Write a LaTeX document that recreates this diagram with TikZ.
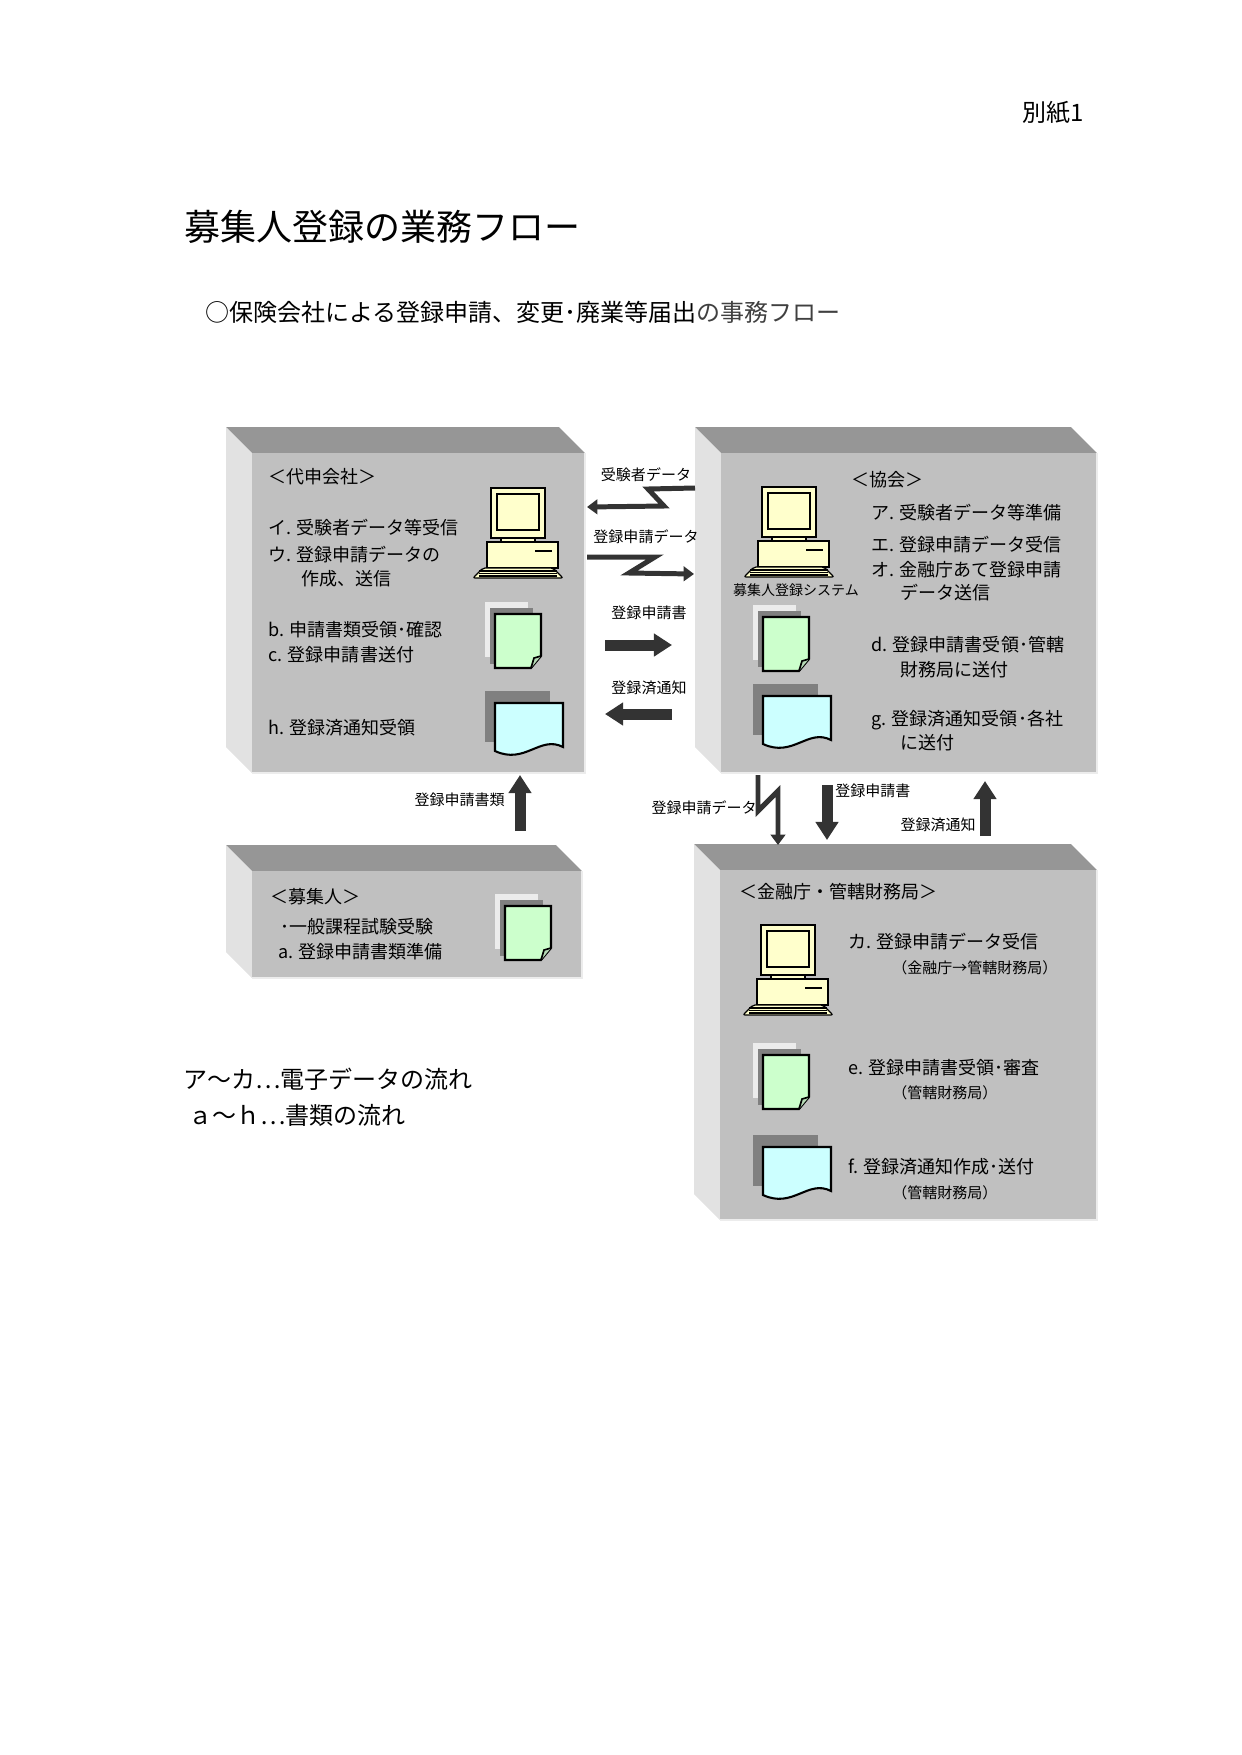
\documentclass[tikz,border=0pt]{standalone}
\usepackage{fontspec}
\setmainfont{Noto Sans CJK JP}
\usetikzlibrary{arrows.meta}

\definecolor{slabfront}{HTML}{C0C0C0}
\definecolor{slabtop}{HTML}{969696}
\definecolor{slabside}{HTML}{E2E2E2}
\definecolor{pccream}{HTML}{FFFFCC}
\definecolor{docgreen}{HTML}{CCFFCC}
\definecolor{doccyan}{HTML}{CCFFFF}
\definecolor{flowgray}{HTML}{333333}

\newcommand{\fpx}[1]{\pgfmathsetmacro\fpxs{#1*0.482}\pgfmathsetmacro\fpxb{#1*0.6}\fontsize{\fpxs pt}{\fpxb pt}\selectfont}

% 3D slab: front face from (#1,#2) to (#3,#4)
\newcommand{\slab}[4]{%
  \fill[slabtop] (#1-26,#2-26) -- (#3-26,#2-26) -- (#3,#2) -- (#1,#2) -- cycle;
  \fill[slabside] (#1-26,#2-26) -- (#1,#2) -- (#1,#4) -- (#1-26,#4-26) -- cycle;
  \fill[slabfront] (#1,#2) rectangle (#3,#4);
  \draw[white!85!gray, line width=0.6pt] (#3,#2) -- (#3,#4) -- (#1,#4);
}

\tikzset{
  lbl/.style={anchor=west, inner sep=0, font=\fpx{18}},
  sml/.style={anchor=west, inner sep=0, font=\fpx{15}},
  flowtag/.style={inner sep=0, font=\fpx{15}},
  bolt/.style={line width=2.4pt, draw=flowgray, line join=miter,
    -{Triangle[length=5pt, width=7pt]}},
  block/.style={line width=5.3pt, draw=flowgray,
    -{Triangle[length=8.7pt, width=10.6pt]}},
  pics/pc/.style={code={
    \draw[fill=pccream, line width=0.6pt] (18,0) rectangle (72,50);
    \draw[line width=1.2pt] (24,6) rectangle (66,42);
    \draw[fill=pccream, line width=0.6pt] (28,50) rectangle (62,54);
    \draw[fill=pccream, line width=0.6pt] (14,54) rectangle (85,80);
    \draw[line width=1.2pt] (62,63) -- (79,63);
    \draw[fill=pccream, line width=0.6pt, rounded corners=1pt]
      (10,80) -- (80,80) -- (90,90) -- (0,90) -- cycle;
    \foreach \k in {83,85.5,88} \draw[line width=0.8pt] (6,\k) -- (84,\k);
  }},
  pics/greendoc/.style={code={
    \fill[gray!15] (0,0) rectangle (43,55);
    \fill[gray] (5,6) rectangle (48,62);
    \draw[fill=docgreen, line width=1pt] (10,12) -- (56,12) -- (56,54) -- (46,66) -- (10,66) -- cycle;
    \draw[fill=docgreen!70!gray, line width=0.8pt] (46,66) -- (49,56) -- (56,54);
  }},
  pics/cyandoc/.style={code={
    \fill[gray] (0,0) rectangle (65,51);
    \draw[fill=doccyan, line width=1pt] (10,12) -- (78,12) -- (78,56)
      .. controls (55,44) and (40,74) .. (10,60) -- cycle;
  }}
}

\begin{document}
\begin{tikzpicture}[x=0.48bp, y=-0.48bp]
\useasboundingbox (0,0) rectangle (1241,1755);

% headings
\node[anchor=east, inner sep=0, font=\fpx{24}] (sheet) at (1084,113) {別紙1};
\node[anchor=west, inner sep=0, font=\fpx{36}] (title) at (184,227) {募集人登録の業務フロー};
\node[anchor=west, inner sep=0, font=\fpx{24}] (sub) at (205,312)
  {○保険会社による登録申請、変更･廃業等届出\textcolor{black!75}{の事務フロー}};

% slabs
\slab{252}{453}{585}{773}
\slab{721}{453}{1097}{773}
\slab{252}{871}{582}{978}
\slab{720}{870}{1097}{1220}

% 代申会社
\node[lbl] (agent) at (268,477) {＜代申会社＞};
\pic at (473,488) {pc};
\node[lbl] (i) at (268,528) {イ. 受験者データ等受信};
\node[lbl] (u) at (268,555) {ウ. 登録申請データの};
\node[lbl] (u2) at (301,579) {作成、送信};
\node[lbl] (b) at (268,630) {b. 申請書類受領･確認};
\node[lbl] (c) at (268,655) {c. 登録申請書送付};
\pic at (485,602) {greendoc};
\node[lbl] (h) at (268,728) {h. 登録済通知受領};
\pic at (485,691) {cyandoc};

% 協会
\node[lbl] (assoc) at (851,480) {＜協会＞};
\pic at (744,487) {pc};
\node[flowtag, font=\fpx{14}] (sys) at (796,590) {募集人登録システム};
\node[lbl] (a1) at (871,513) {ア. 受験者データ等準備};
\node[lbl] (e1) at (871,545) {エ. 登録申請データ受信};
\node[lbl] (o1) at (871,570) {オ. 金融庁あて登録申請};
\node[lbl] (o2) at (900,593) {データ送信};
\pic at (753,605) {greendoc};
\node[lbl] (d) at (871,645) {d. 登録申請書受領･管轄};
\node[lbl] (d2) at (900,670) {財務局に送付};
\pic at (753,684) {cyandoc};
\node[lbl] (g) at (871,720) {g. 登録済通知受領･各社};
\node[lbl] (g2) at (900,743) {に送付};

% 募集人
\node[lbl] (cand) at (270,897) {＜募集人＞};
\node[lbl] (exam) at (280,927) {･一般課程試験受験};
\node[lbl] (prep) at (278,952) {a. 登録申請書類準備};
\pic at (495,894) {greendoc};

% 金融庁・管轄財務局
\node[lbl] (fsa) at (739,892) {＜金融庁・管轄財務局＞};
\pic at (743,925) {pc};
\node[lbl] (ka) at (848,942) {カ. 登録申請データ受信};
\node[sml] (ka2) at (892,968) {（金融庁→管轄財務局）};
\pic at (753,1043) {greendoc};
\node[lbl] (ee) at (848,1068) {e. 登録申請書受領･審査};
\node[sml] (ee2) at (892,1093) {（管轄財務局）};
\pic at (753,1135) {cyandoc};
\node[lbl] (ff) at (848,1167) {f. 登録済通知作成･送付};
\node[sml] (ff2) at (892,1193) {（管轄財務局）};

% legend
\node[anchor=west, inner sep=0, font=\fpx{24}] (leg1) at (183,1079) {ア～カ⋯電子データの流れ};
\node[anchor=west, inner sep=0, font=\fpx{24}] (leg2) at (188,1115) {ａ～ｈ⋯書類の流れ};

% flows between agent and association
\coordinate (q1) at (695,488);  \coordinate (p1) at (587,507);
\node[flowtag] (t1) at (646,475) {受験者データ};
\draw[bolt] (q1) -- (648,489) -- (664,506) -- (p1);
\coordinate (p2) at (587,557);  \coordinate (q2) at (694,574);
\node[flowtag] (t2) at (646,537) {登録申請データ};
\draw[bolt] (p2) -- (655,557) -- (629,573) -- (q2);
\coordinate (p3) at (605,645);  \coordinate (q3) at (672,645);
\node[flowtag] (t3) at (649,613) {登録申請書};
\draw[block] (p3) -- (q3);
\coordinate (p4) at (672,714);  \coordinate (q4) at (605,714);
\node[flowtag] (t4) at (649,688) {登録済通知};
\draw[block] (p4) -- (q4);

% candidate to agent
\coordinate (p5) at (520,831);  \coordinate (q5) at (520,775);
\node[flowtag, anchor=east] (t5) at (505,800) {登録申請書類};
\draw[block] (p5) -- (q5);

% association and FSA
\coordinate (p6) at (758,775);  \coordinate (q6) at (778,845);
\node[flowtag, anchor=east] (t6) at (757,808) {登録申請データ};
\draw[bolt] (p6) -- (758,811) -- (778,791) -- (q6);
\coordinate (p7) at (827,785);  \coordinate (q7) at (827,840);
\node[flowtag, anchor=west] (t7) at (835,791) {登録申請書};
\draw[block] (p7) -- (q7);
\coordinate (p8) at (985,836);  \coordinate (q8) at (985,781);
\node[flowtag, anchor=east] (t8) at (976,825) {登録済通知};
\draw[block] (p8) -- (q8);
\end{tikzpicture}
\end{document}
